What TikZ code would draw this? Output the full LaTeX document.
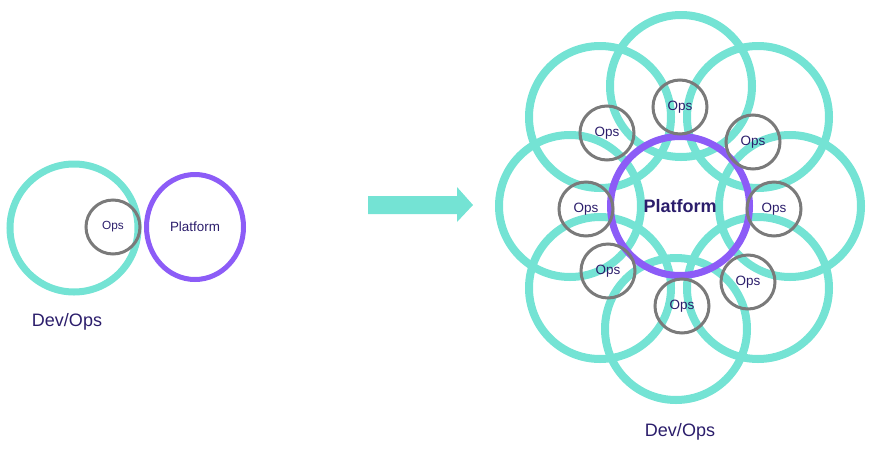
\documentclass[tikz,border=0pt]{standalone}
\usepackage{fontspec}
\setmainfont{Liberation Sans}
\usetikzlibrary{positioning, shapes.geometric}
\definecolor{devteal}{RGB}{116, 227, 212}
\definecolor{platviolet}{RGB}{140, 92, 247}
\definecolor{opsgray}{RGB}{122, 122, 122}
\definecolor{ink}{RGB}{43, 29, 107}

\begin{document}
\begin{tikzpicture}[
    x=1pt, y=-1pt,
    devops/.style={circle, draw=devteal, line width=#1, inner sep=0pt},
    ops/.style={circle, draw=opsgray, line width=3pt, inner sep=0pt, minimum size=54pt, text=ink},
    plat/.style={draw=platviolet, inner sep=0pt, text=ink},
    lbl/.style={font=\fontsize{18}{20}\selectfont, text=ink}
  ]
  \useasboundingbox (0,0) rectangle (871,448);

  % Before: one team
  \node[devops=7pt, minimum size=128pt] (devL) at (74,228) {};
  \node[plat, ellipse, line width=5pt, minimum width=97pt, minimum height=105pt,
        font=\fontsize{13.4}{15}\selectfont] (platL) at (195,227) {Platform};
  \node[ops, font=\fontsize{11.8}{13}\selectfont] (opsL) at (113,227) {Ops};
  \node[lbl] (capL) at (67,322) {Dev/Ops};

  % Arrow
  \fill[devteal] (368,196) -- (457,196) -- (457,187) -- (473,205)
    -- (457,222) -- (457,214) -- (368,214) -- cycle;

  % After: many teams round one platform
  \foreach \x/\y [count=\i] in {681/86, 758/117, 790/206, 758/288,
                                676/329, 600/288, 570/206, 600/117} {
    \node[devops=8pt, minimum size=142pt] (dev\i) at (\x,\y) {};
  }
  \node[plat, circle, line width=7pt, minimum size=139pt,
        font=\fontsize{18}{20}\selectfont\bfseries] (platR) at (680,206) {Platform};
  \foreach \x/\y [count=\i] in {680/107, 753/142, 774/209, 748/282,
                                682/306, 608/271, 586/209, 607/133} {
    \node[ops, font=\fontsize{13.5}{15}\selectfont] (ops\i) at (\x,\y) {Ops};
  }
  \node[lbl] (capR) at (680,432) {Dev/Ops};

\end{tikzpicture}
\end{document}
